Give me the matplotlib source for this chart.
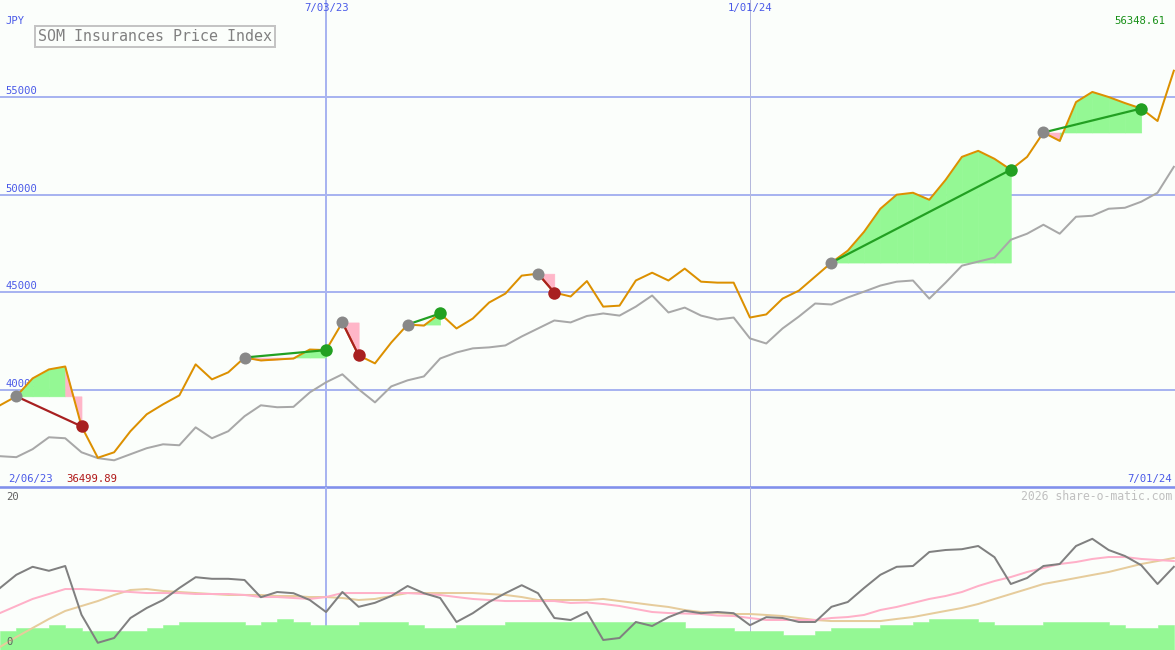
import numpy as np
import pandas as pd
import matplotlib
matplotlib.use("Agg")
import matplotlib.pyplot as plt

# ---------------- data ----------------
dates = pd.date_range("2023-02-13", periods=73, freq="7D")

price = [39190, 39650, 40570, 41030, 41180, 38110, 36499.89, 36780, 37860, 38730,
         39240, 39700, 41290, 40520, 40880, 41640, 41490, 41540, 41590, 42050,
         42020, 43440, 41750, 41340, 42410, 43330, 43280, 43900, 43130, 43640,
         44460, 44920, 45840, 45940, 44970, 44770, 45560, 44250, 44300, 45590,
         45990, 45590, 46200, 45530, 45480, 45480, 43690, 43850, 44660, 45070,
         45790, 46510, 47120, 48090, 49270, 49990, 50090, 49730, 50750, 51930,
         52240, 51830, 51270, 51930, 53180, 52750, 54740, 55260, 55000, 54690,
         54410, 53770, 56348.61]

benchmark = [36580, 36530, 36940, 37550, 37500, 36780, 36480, 36370, 36680, 36990,
             37190, 37140, 38060, 37500, 37860, 38630, 39190, 39090, 39110, 39850,
             40370, 40780, 40010, 39340, 40160, 40470, 40670, 41590, 41900, 42110,
             42160, 42260, 42720, 43130, 43540, 43440, 43770, 43900, 43790, 44250,
             44820, 43950, 44200, 43790, 43590, 43690, 42620, 42360, 43130, 43740,
             44410, 44360, 44720, 45020, 45330, 45530, 45590, 44660, 45480, 46350,
             46560, 46760, 47680, 47990, 48450, 47990, 48860, 48910, 49270, 49320,
             49630, 50090, 51420]

trade_entry = [1, 15, 21, 25, 33, 51, 64]
trade_exit = [5, 20, 22, 27, 34, 62, 70]

osc = [7.75, 9.4, 10.4, 9.9, 10.5, 4.4, 0.9, 1.5, 4.0, 5.25,
       6.25, 7.75, 9.1, 8.9, 8.9, 8.75, 6.6, 7.25, 7.1, 6.25,
       4.75, 7.25, 5.4, 5.9, 6.75, 8.0, 7.1, 6.5, 3.5, 4.6,
       6.0, 7.1, 8.1, 7.1, 4.0, 3.75, 4.75, 1.25, 1.5, 3.5,
       3.0, 4.1, 4.9, 4.6, 4.75, 4.6, 3.1, 4.1, 4.0, 3.5,
       3.5, 5.4, 6.0, 7.75, 9.4, 10.4, 10.5, 12.25, 12.5, 12.6,
       13.0, 11.6, 8.25, 9.0, 10.5, 10.75, 13.0, 13.9, 12.5, 11.75,
       10.6, 8.25, 10.4]

osc_ma_fast = [4.62, 5.5, 6.38, 7.0, 7.62, 7.62, 7.5, 7.38, 7.25, 7.12,
               7.12, 7.12, 7.0, 7.0, 7.0, 6.88, 6.62, 6.62, 6.5, 6.38,
               6.62, 7.12, 7.12, 7.12, 7.12, 7.12, 7.0, 6.88, 6.62, 6.38,
               6.25, 6.12, 6.12, 6.12, 6.12, 5.88, 5.94, 5.75, 5.5, 5.12,
               4.75, 4.62, 4.56, 4.5, 4.31, 4.25, 4.0, 3.75, 3.75, 3.75,
               3.75, 4.0, 4.12, 4.38, 5.0, 5.38, 5.88, 6.38, 6.75, 7.25,
               8.0, 8.62, 9.12, 9.75, 10.25, 10.75, 11.0, 11.38, 11.62, 11.62,
               11.38, 11.25, 11.12]

osc_ma_slow = [0.38, 1.62, 2.75, 3.88, 4.88, 5.5, 6.12, 6.88, 7.5, 7.62,
               7.38, 7.25, 7.12, 7.0, 6.88, 6.88, 6.88, 6.75, 6.75, 6.62,
               6.62, 6.5, 6.25, 6.38, 6.75, 7.12, 7.12, 7.12, 7.12, 7.12,
               7.0, 6.88, 6.62, 6.25, 6.25, 6.25, 6.25, 6.38, 6.12, 5.88,
               5.62, 5.38, 5.0, 4.75, 4.62, 4.5, 4.5, 4.38, 4.25, 4.0,
               3.75, 3.62, 3.62, 3.62, 3.62, 3.88, 4.12, 4.5, 4.88, 5.25,
               5.75, 6.38, 7.0, 7.62, 8.25, 8.62, 9.0, 9.38, 9.75, 10.25,
               10.75, 11.12, 11.5]

volume = [2.38, 2.75, 2.75, 3.12, 2.75, 2.38, 2.38, 2.38, 2.38, 2.75,
          3.12, 3.5, 3.5, 3.5, 3.5, 3.12, 3.5, 3.88, 3.5, 3.12,
          3.12, 3.12, 3.5, 3.5, 3.5, 3.12, 2.75, 2.75, 3.12, 3.12,
          3.12, 3.5, 3.5, 3.5, 3.5, 3.5, 3.5, 3.5, 3.5, 3.5,
          3.5, 3.5, 2.75, 2.75, 2.75, 2.38, 2.38, 2.38, 1.88, 1.88,
          2.38, 2.75, 2.75, 2.75, 3.12, 3.12, 3.5, 3.88, 3.88, 3.88,
          3.5, 3.12, 3.12, 3.12, 3.5, 3.5, 3.5, 3.5, 3.12, 2.75,
          2.75, 3.12, 3.12]

price_levels = [40000, 45000, 50000, 55000]
price_labels = ["40000", "45000", "50000", "55000"]
top_dates = ["2023-07-03", "2024-01-01"]
top_labels = ["7/03/23", "1/01/24"]
title = "SOM Insurances Price Index"

# ---------------- style ----------------
BG = "#fbfefb"
GRID = "#a8b4f0"
BLUE_TXT = "#4a5ae8"
ORANGE = "#dc9000"
GREY = "#a8a8a8"
FILL_G = "#94f894"
FILL_P = "#ffb6c8"
WIN = "#22a022"
LOSS = "#a82020"
ENTRY = "#888888"
MONO = "DejaVu Sans Mono"
PX = 72.0 / 100.0  # points per pixel

W, H = 1175, 650
fig = plt.figure(figsize=(W / 100, H / 100), dpi=100)
fig.patch.set_facecolor(BG)

ax = fig.add_axes([0, 163 / H, 1, 487 / H])
ax2 = fig.add_axes([0, 0, 1, 163 / H])
for a in (ax, ax2):
    a.set_facecolor("none")
    a.set_xticks([])
    a.set_yticks([])
    for s in a.spines.values():
        s.set_visible(False)
    a.set_xlim(dates[0], dates[-1] + pd.Timedelta(days=0.5))

ax.set_ylim(35000, 59975)
ax2.set_ylim(0, 20.375)

# grid
for lv in price_levels:
    ax.axhline(lv, color=GRID, lw=2 * PX, zorder=1)
ax.axhline(35000, color="#8090ec", lw=2.6 * PX, zorder=6, clip_on=False)
d0 = pd.Timestamp(top_dates[0])
d1 = pd.Timestamp(top_dates[1])
for a in (ax, ax2):
    a.axvline(d0, color=GRID, lw=2 * PX, zorder=1)
    a.axvline(d1, color="#b4b8dc", lw=1 * PX, zorder=1)

# price labels
for lv, lb in zip(price_levels, price_labels):
    ax.text(5 / W, (lv - 35000) / (59975 - 35000) + 6 / 487, lb, transform=ax.transAxes,
            ha="left", va="center", fontsize=7.6, family=MONO, color=BLUE_TXT, zorder=2)
ax.text(5 / W, 1 - 21 / 487, "JPY", transform=ax.transAxes, ha="left", va="center",
        fontsize=7.6, family=MONO, color=BLUE_TXT)
for d, lb in zip(top_dates, top_labels):
    ax.text(pd.Timestamp(d), 59975 - 8 / 487 * 24975, lb, ha="center", va="center",
            fontsize=7.7, family=MONO, color=BLUE_TXT)

# trade fills (per segment, colour by where the segment ends vs entry level)
for e, x in zip(trade_entry, trade_exit):
    lvl = price[e]
    for k in range(e, x):
        col = FILL_G if price[k + 1] >= lvl else FILL_P
        ax.fill_between(dates[k:k + 2], price[k:k + 2], lvl, facecolor=col,
                        edgecolor=col, lw=0.6 * PX, zorder=2)

ax.plot(dates, benchmark, color=GREY, lw=2 * PX, zorder=3)
ax.plot(dates, price, color=ORANGE, lw=2 * PX, zorder=4)

for e, x in zip(trade_entry, trade_exit):
    win = price[x] >= price[e]
    c = WIN if win else LOSS
    ax.plot([dates[e], dates[x]], [price[e], price[x]], color=c, lw=2.2 * PX, zorder=5)
    ax.plot([dates[e]], [price[e]], "o", ms=12 * PX, color=ENTRY, mec="none", zorder=7)
    ax.plot([dates[x]], [price[x]], "o", ms=12.5 * PX, color=c, mec="none", zorder=7)

# title box
fig.text(155 / W, 1 - 36.5 / H, title, ha="center", va="center", fontsize=10.8,
         family=MONO, color="#808080",
         bbox=dict(boxstyle="square,pad=0.22", fc=BG, ec="#c4c4c4", lw=2 * PX))

# corner labels
fig.text(8 / W, 1 - 479 / H, "2/06/23", ha="left", va="center", fontsize=7.7,
         family=MONO, color=BLUE_TXT)
fig.text(66 / W, 1 - 479 / H, f"{min(price):.2f}", ha="left", va="center", fontsize=7.7,
         family=MONO, color="#b01818")
fig.text(1172 / W, 1 - 479 / H, "7/01/24", ha="right", va="center", fontsize=7.7,
         family=MONO, color=BLUE_TXT)
fig.text(1165 / W, 1 - 21 / H, f"{max(price):.2f}", ha="right", va="center", fontsize=7.7,
         family=MONO, color="#189018")
fig.text(1172 / W, 1 - 496 / H, "2026 share-o-matic.com", ha="right", va="center",
         fontsize=8.3, family=MONO, color="#c0c0c0")
fig.text(6 / W, 1 - 497 / H, "20", ha="left", va="center", fontsize=7.6,
         family=MONO, color="#606060")
fig.text(6 / W, 1 - 642 / H, "0", ha="left", va="center", fontsize=7.6,
         family=MONO, color="#606060", zorder=10)

# lower panel
ax2.fill_between(dates, volume, 0, step="post", facecolor=FILL_G, edgecolor=FILL_G,
                 lw=0.5 * PX, zorder=2)
ax2.plot(dates, osc_ma_slow, color="#e6cc9c", lw=2 * PX, zorder=3)
ax2.plot(dates, osc_ma_fast, color="#ffb0c8", lw=2 * PX, zorder=3)
ax2.plot(dates, osc, color="#808080", lw=2 * PX, zorder=4)

fig.savefig("out.png", dpi=100, facecolor=BG)
